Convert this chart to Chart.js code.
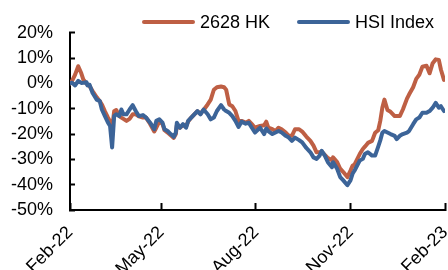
<!DOCTYPE html>
<html>
<head>
<meta charset="utf-8">
<script src="https://cdn.jsdelivr.net/npm/chart.js@4"></script>
<style>
  html, body { margin: 0; padding: 0; background: #fff; }
  #wrap { position: relative; width: 448px; height: 270px; }
  #legend { position: absolute; left: 0; top: 0; width: 448px; height: 31px;
            font-family: 'Liberation Sans', Arial, sans-serif; font-size: 18px; color: #000; }
  .item { position: absolute; top: 12px; height: 20px; display: flex; align-items: center; white-space: nowrap; }
  .swatch { display: inline-block; width: 53px; height: 4px; margin-right: 5px; border-radius: 2px; }
</style>
</head>
<body>
<div id="wrap">
  <canvas id="chart" width="448" height="270"></canvas>
  <div id="legend"></div>
</div>
<script>
// days since 1 Feb 2022
const days = [0, 2, 5, 8, 11, 13, 16, 17, 19, 22, 26, 29, 31, 34, 37, 39, 41, 43, 45, 48,
  50, 52, 55, 58, 61, 64, 67, 71, 74, 78, 82, 84, 87, 90, 92, 95, 98, 101, 103, 104,
  107, 110, 113, 115, 118, 121, 124, 127, 130, 134, 137, 140, 143, 147, 150, 152, 155, 158, 161, 164,
  167, 171, 174, 177, 180, 185, 189, 191, 193, 197, 200, 203, 206, 210, 213, 216, 219, 223, 226, 230,
  234, 237, 240, 243, 245, 248, 251, 255, 256, 260, 263, 266, 270, 273, 275, 277, 282, 285, 287, 290,
  294, 297, 300, 302, 304, 306, 309, 312, 316, 318, 321, 324, 328, 330, 334, 337, 340, 343, 347, 350,
  353, 356, 359, 361, 364];

// cumulative return, %
const hk2628 = [0, 1, 3.5, 6.8, 4, 1.5, 0, -0.5, -1, -3, -5.5, -7, -8.3, -11, -13.5, -15, -17.5, -11, -10.5, -12.9,
  -13.5, -14, -14.8, -14, -12.2, -12.2, -13, -13.5, -13.5, -16, -19, -17.5, -15, -16, -18.5, -19.4, -20.5, -21.5, -20, -16.5,
  -17.5, -16.5, -17, -15, -13.5, -12.2, -11, -12, -10.5, -8.3, -6.4, -2.5, -1.5, -1.2, -1.5, -2.5, -8.3, -9, -10.9, -14.8,
  -14.8, -15.5, -14.8, -16.1, -17.5, -16.8, -16.5, -15.1, -17.5, -18.1, -18.8, -17.5, -18.1, -19.4, -20.7, -20.7, -18.1, -18.1, -19, -21,
  -22.7, -24.6, -27.2, -27.2, -27, -28.2, -29.5, -30.3, -29.2, -31.1, -33.7, -35, -37, -34.4, -32.5, -32, -27.9, -25.9, -25, -23.5,
  -22.7, -19.5, -18.5, -14.8, -9.6, -6.4, -10.5, -11.2, -12.9, -12.9, -12.9, -10.3, -6, -4.4, -1.5, 1.8, 3.4, 6.6, 7, 4,
  8, 9.5, 9.3, 5.5, 1.4];

const hsi = [0, 0.3, -0.8, 1, 0.2, 0.3, 0.5, -0.8, -0.5, -3.8, -6.4, -7, -10.3, -12.9, -15.5, -16.8, -25.3, -12.9, -12.2, -12.9,
  -10.3, -12.2, -12.2, -10.3, -8.6, -10.9, -12.9, -12.5, -13.5, -15.5, -18.1, -14.8, -14.2, -15.5, -18.1, -18.8, -20, -21.1, -19.4, -15.5,
  -17.5, -16.1, -17.5, -14.8, -13.5, -12.2, -10.9, -12.2, -10.3, -12.2, -14.2, -13.5, -10.9, -8.6, -10.3, -10.9, -11.6, -12.9, -14.8, -17.2,
  -15.1, -15.9, -15.5, -17.5, -19.4, -17.5, -20, -17.8, -18.8, -20, -19.4, -18.8, -19.4, -20.7, -21.4, -22.7, -21.4, -22.4, -23.3, -25.5,
  -27.2, -29.2, -29.8, -28.5, -26.6, -28.5, -31.1, -33.1, -31.1, -33.7, -37, -38.3, -40.2, -38.3, -35.7, -34.4, -30.5, -29.8, -27.9, -27.2,
  -28.5, -28.5, -25, -22.5, -19.5, -18.8, -19.4, -20, -20.7, -22, -20.7, -20, -19.4, -18.8, -16.1, -14.2, -13.5, -11.6, -11.6, -10.9,
  -9.6, -7.7, -9.6, -9, -10.9];

const tickDays = [0, 89, 181, 273, 365];
const tickLabels = ['Feb-22', 'May-22', 'Aug-22', 'Nov-22', 'Feb-23'];

const seriesNames = ['2628 HK', 'HSI Index'];
const seriesColors = ['#BE5F44', '#3C6498'];

Chart.defaults.font.family = "'Liberation Sans', Arial, sans-serif";
Chart.defaults.font.size = 18;
Chart.defaults.color = '#000';

function toPoints(vals) {
    return vals.map((v, i) => ({ x: days[i], y: v }));
}

const chart = new Chart(document.getElementById('chart'), {
    type: 'line',
    data: {
        datasets: [{
            label: seriesNames[0],
            data: toPoints(hk2628),
            borderColor: seriesColors[0],
            borderWidth: 4,
            order: 1
        }, {
            label: seriesNames[1],
            data: toPoints(hsi),
            borderColor: seriesColors[1],
            borderWidth: 4,
            order: 0
        }]
    },
    options: {
        responsive: false,
        animation: false,
        layout: { padding: { top: 31, right: 3, left: 0, bottom: 0 } },
        elements: {
            point: { radius: 0 },
            line: { tension: 0, borderJoinStyle: 'round', borderCapStyle: 'round' }
        },
        plugins: {
            legend: { display: false },
            tooltip: { enabled: false }
        },
        scales: {
            x: {
                type: 'linear',
                min: 0,
                max: 365,
                afterBuildTicks: s => { s.ticks = tickDays.map(v => ({ value: v })); },
                afterFit: s => { s.height = 60; s.paddingLeft = 0; s.paddingRight = 0; },
                ticks: {
                    autoSkip: false,
                    minRotation: 45,
                    maxRotation: 45,
                    padding: 19,
                    callback: (v, i) => tickLabels[i]
                },
                grid: { drawOnChartArea: false, tickLength: -7, tickWidth: 2, tickColor: '#000' },
                border: { color: '#000', width: 2 }
            },
            y: {
                min: -50,
                max: 20,
                afterFit: s => { s.width = 70; },
                ticks: {
                    stepSize: 10,
                    padding: 22,
                    callback: v => v + '%'
                },
                grid: { drawOnChartArea: false, tickLength: -5, tickWidth: 2, tickColor: '#000' },
                border: { color: '#000', width: 2 }
            }
        }
    }
});

// legend as real text, built from the datasets
const legendLeft = [142, 297];
const legendEl = document.getElementById('legend');
chart.data.datasets.forEach((ds, i) => {
    const item = document.createElement('div');
    item.className = 'item';
    item.style.left = legendLeft[i] + 'px';
    const sw = document.createElement('span');
    sw.className = 'swatch';
    sw.style.background = ds.borderColor;
    item.appendChild(sw);
    item.appendChild(document.createTextNode(ds.label));
    legendEl.appendChild(item);
});
</script>
</body>
</html>
